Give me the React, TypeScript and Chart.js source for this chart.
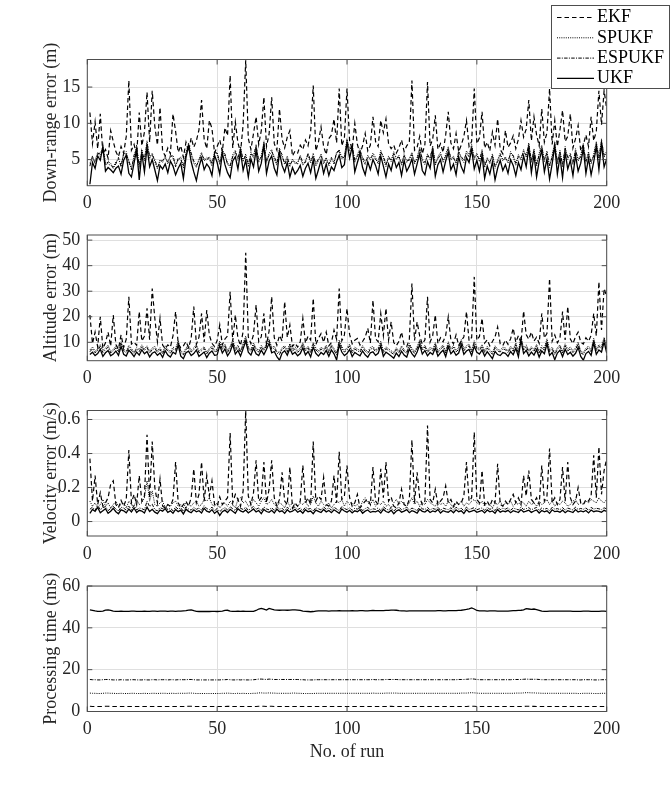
import React, { useEffect, useRef } from 'react';
import { Chart, registerables } from 'chart.js';

Chart.register(...registerables);

// ---------------- data ----------------
const runs: number[] = Array.from({ length: 200 }, (_, i) => i + 1);
const seriesNames = ['EKF', 'SPUKF', 'ESPUKF', 'UKF'];

// Panel 1: Down-range error (m)
const downEKF = [
  11.5, 7.2, 10.2, 6.5, 11.3, 5.8, 6.4, 5.2, 9.0, 7.5,
  6.1, 5.4, 6.8, 5.9, 8.2, 15.9, 6.3, 7.1, 5.6, 11.5,
  6.9, 8.8, 14.3, 7.4, 14.5, 9.6, 7.0, 12.2, 6.2, 5.5,
  6.6, 5.8, 11.3, 8.9, 6.0, 6.9, 5.3, 7.4, 6.1, 8.0,
  6.7, 7.6, 9.1, 13.2, 7.8, 6.5, 10.4, 9.3, 5.9, 6.8,
  7.7, 6.1, 9.4, 8.3, 16.6, 6.6, 10.2, 7.3, 6.0, 9.8,
  18.7, 7.9, 6.4, 8.6, 10.9, 7.1, 9.0, 13.6, 6.8, 8.5,
  13.6, 7.2, 6.3, 12.0, 7.8, 6.6, 8.1, 9.0, 5.5, 6.2,
  5.9, 7.0, 6.4, 7.7, 6.9, 8.8, 15.2, 6.2, 7.4, 9.5,
  6.8, 5.7, 7.9, 8.4, 10.6, 7.3, 14.8, 6.9, 8.0, 14.8,
  7.6, 6.4, 10.0, 7.1, 5.8, 6.9, 8.6, 6.2, 7.0, 10.9,
  7.5, 6.8, 10.4, 8.7, 10.6, 7.2, 6.5, 7.0, 5.9, 6.6,
  7.7, 6.1, 6.9, 7.4, 15.9, 6.3, 6.7, 8.2, 5.8, 7.1,
  15.7, 6.9, 7.8, 11.1, 6.4, 7.2, 6.0, 8.4, 11.6, 7.3,
  6.5, 8.6, 6.1, 7.0, 8.2, 10.4, 6.8, 7.5, 14.8, 7.2,
  8.0, 11.6, 6.6, 7.4, 6.2, 8.8, 7.0, 10.6, 6.4, 5.8,
  9.0, 6.7, 7.3, 8.3, 6.5, 7.8, 10.4, 8.1, 9.2, 13.2,
  7.6, 10.9, 8.4, 6.9, 12.0, 7.4, 8.7, 14.8, 7.1, 10.4,
  6.8, 9.1, 11.8, 7.5, 8.2, 11.3, 6.6, 7.9, 9.7, 6.2,
  7.0, 8.4, 6.8, 10.9, 7.6, 8.9, 14.5, 9.8, 14.5, 12.0,
];
const downSPUKF = [
  4.5, 5.2, 4.9, 6.0, 5.4, 6.9, 4.6, 4.4, 4.2, 4.0,
  4.7, 5.0, 4.3, 5.6, 6.1, 4.5, 3.9, 5.2, 7.0, 3.8,
  6.4, 4.8, 7.6, 5.1, 5.9, 4.7, 3.7, 5.0, 4.6, 5.5,
  4.4, 5.7, 5.2, 4.3, 4.9, 5.4, 3.8, 6.0, 7.3, 5.6,
  4.5, 3.9, 5.1, 6.0, 4.8, 5.3, 5.0, 4.1, 6.2, 5.7,
  4.3, 6.5, 5.4, 4.6, 3.9, 5.7, 6.3, 4.9, 6.8, 4.7,
  5.8, 4.0, 6.0, 5.2, 7.1, 4.6, 5.6, 7.4, 4.5, 5.9,
  6.4, 5.0, 4.2, 6.6, 5.3, 4.6, 5.5, 4.0, 5.1, 4.4,
  4.7, 5.3, 4.2, 4.9, 5.6, 4.5, 5.9, 4.1, 4.8, 5.8,
  4.4, 5.3, 4.1, 5.0, 4.7, 5.8, 6.4, 5.1, 5.5, 7.8,
  6.2, 7.1, 4.6, 5.7, 6.5, 5.0, 4.3, 5.6, 4.9, 5.9,
  5.3, 4.4, 6.3, 5.2, 4.0, 5.5, 4.7, 6.1, 5.0, 5.6,
  4.2, 5.8, 4.6, 5.2, 6.0, 4.4, 5.3, 6.7, 4.8, 4.3,
  5.8, 5.0, 6.9, 4.2, 5.4, 6.0, 4.6, 5.7, 6.8, 4.9,
  5.5, 4.3, 6.3, 5.1, 4.6, 6.2, 5.7, 7.1, 5.0, 5.9,
  4.7, 6.4, 3.9, 5.3, 4.4, 5.8, 3.8, 5.0, 5.9, 4.8,
  5.4, 4.5, 6.1, 5.3, 4.2, 5.7, 4.9, 6.4, 5.3, 7.3,
  4.6, 6.5, 4.1, 5.9, 7.0, 4.7, 6.2, 3.9, 5.6, 7.4,
  4.4, 6.3, 4.0, 6.8, 5.0, 5.9, 4.3, 6.5, 4.8, 5.6,
  7.2, 4.5, 6.1, 4.4, 5.8, 7.5, 5.0, 7.8, 5.3, 6.2,
];
const downESPUKF = [
  4.1, 5.5, 4.4, 5.8, 5.9, 6.5, 4.2, 4.7, 4.5, 3.8,
  4.4, 5.3, 4.0, 5.9, 5.7, 4.9, 3.6, 5.6, 6.6, 4.2,
  6.0, 5.1, 7.2, 5.5, 5.6, 5.0, 3.9, 4.7, 4.9, 5.2,
  4.7, 5.4, 5.6, 4.0, 5.2, 5.0, 4.1, 5.7, 7.0, 5.9,
  4.8, 4.2, 4.8, 5.7, 5.1, 4.9, 5.4, 4.4, 5.9, 6.0,
  4.6, 6.1, 5.8, 4.3, 4.2, 5.4, 6.0, 5.2, 6.5, 5.0,
  5.5, 4.4, 5.7, 5.6, 6.8, 4.9, 5.3, 7.1, 4.8, 5.6,
  6.1, 5.4, 4.5, 6.3, 5.7, 4.3, 5.2, 4.3, 4.8, 4.7,
  4.4, 5.6, 4.5, 4.6, 5.9, 4.8, 5.5, 4.4, 5.1, 5.5,
  4.7, 5.0, 4.4, 5.3, 4.4, 6.1, 6.1, 5.4, 5.2, 7.5,
  6.5, 6.8, 4.9, 5.4, 6.2, 5.3, 4.6, 5.3, 5.2, 5.6,
  5.0, 4.7, 6.0, 5.5, 4.3, 5.2, 5.0, 5.8, 5.3, 5.3,
  4.5, 5.5, 4.9, 4.9, 5.7, 4.7, 5.0, 6.4, 5.1, 4.6,
  5.5, 5.3, 6.6, 4.5, 5.1, 5.7, 4.9, 5.4, 6.5, 5.2,
  5.2, 4.6, 6.0, 5.4, 4.9, 5.9, 5.4, 6.8, 5.3, 5.6,
  5.0, 6.1, 4.2, 5.0, 4.7, 5.5, 4.1, 4.7, 5.6, 5.1,
  5.1, 4.8, 5.8, 5.6, 4.5, 5.4, 5.2, 6.1, 5.6, 7.0,
  4.9, 6.2, 4.4, 5.6, 6.7, 5.0, 5.9, 4.2, 5.3, 7.1,
  4.7, 6.0, 4.3, 6.5, 5.3, 5.6, 4.6, 6.2, 5.1, 5.3,
  6.9, 4.8, 5.8, 4.7, 5.5, 7.2, 5.3, 7.5, 5.6, 5.9,
];
const downUKF = [
  1.6, 4.6, 3.8, 5.5, 4.9, 6.8, 3.4, 3.9, 3.6, 3.2,
  3.8, 4.1, 3.0, 4.9, 5.6, 3.1, 2.6, 4.5, 6.4, 2.2,
  5.9, 3.3, 6.7, 4.0, 5.0, 3.6, 2.1, 4.2, 3.7, 4.4,
  3.2, 4.8, 4.1, 2.9, 3.8, 4.5, 2.4, 5.3, 6.9, 4.7,
  3.3, 2.1, 4.0, 5.2, 3.6, 4.4, 3.9, 2.8, 5.6, 4.6,
  3.0, 5.9, 4.3, 3.2, 2.5, 4.8, 5.4, 3.7, 6.1, 3.5,
  4.9, 2.6, 5.1, 4.0, 6.3, 3.4, 4.5, 7.0, 3.1, 4.8,
  5.5, 3.8, 2.9, 6.0, 4.2, 3.3, 4.6, 2.6, 3.9, 3.0,
  3.5, 4.2, 2.7, 3.8, 4.5, 3.2, 5.0, 2.4, 3.6, 4.9,
  3.1, 4.4, 2.8, 4.0, 3.5, 4.7, 5.6, 3.9, 4.3, 7.4,
  5.2, 6.8, 3.3, 4.6, 5.8, 3.9, 2.9, 4.7, 3.6, 5.0,
  4.2, 3.0, 5.5, 4.1, 2.6, 4.4, 3.5, 5.2, 3.9, 4.6,
  2.8, 4.9, 3.4, 4.1, 5.1, 3.0, 4.4, 5.8, 3.5, 2.9,
  4.7, 3.8, 6.2, 2.7, 4.3, 5.0, 3.3, 4.8, 6.0, 3.6,
  4.4, 2.9, 5.4, 4.0, 3.2, 5.3, 4.6, 6.4, 3.7, 4.9,
  3.4, 5.6, 2.4, 4.1, 3.0, 4.7, 2.2, 3.8, 4.9, 3.5,
  4.3, 3.1, 5.0, 4.2, 2.8, 4.6, 3.6, 5.5, 4.0, 6.6,
  3.2, 5.7, 2.6, 4.8, 6.3, 3.3, 5.1, 2.3, 4.4, 6.9,
  3.0, 5.4, 2.5, 6.0, 3.7, 4.9, 2.8, 5.6, 3.4, 4.5,
  6.5, 3.1, 5.2, 2.9, 4.7, 6.8, 3.6, 7.2, 4.0, 5.1,
];

// Panel 2: Altitude error (m)
const altEKF = [
  20.7, 9.5, 14.0, 8.2, 20.0, 7.6, 9.8, 14.0, 8.5, 20.7,
  9.1, 7.4, 12.9, 8.0, 11.2, 27.8, 9.3, 10.0, 8.8, 22.0,
  10.5, 12.4, 23.3, 11.0, 31.0, 19.4, 10.2, 19.4, 8.9, 7.5,
  9.0, 8.1, 12.6, 22.0, 9.4, 7.8, 8.6, 10.3, 7.9, 11.5,
  24.0, 9.2, 12.0, 21.3, 10.1, 22.6, 12.8, 9.6, 8.3, 10.7,
  16.8, 9.0, 11.3, 12.5, 29.8, 10.4, 20.7, 11.6, 8.7, 14.2,
  45.0, 12.1, 9.5, 13.0, 24.6, 10.3, 12.2, 21.3, 9.1, 14.4,
  27.8, 11.8, 8.9, 12.7, 10.5, 25.9, 11.9, 16.8, 8.4, 9.6,
  8.1, 10.2, 19.4, 9.7, 12.4, 10.9, 27.2, 9.2, 11.5, 13.4,
  10.0, 14.0, 8.6, 9.9, 14.8, 11.2, 31.0, 10.6, 12.9, 23.3,
  13.1, 9.4, 10.8, 11.5, 8.9, 10.3, 12.0, 15.5, 9.7, 26.5,
  11.4, 10.2, 21.3, 12.6, 23.3, 10.8, 18.0, 9.9, 8.7, 10.4,
  14.0, 9.0, 8.3, 11.2, 33.0, 10.7, 18.0, 12.4, 9.3, 11.0,
  27.8, 10.1, 12.6, 20.7, 9.5, 11.8, 10.2, 12.7, 20.0, 10.9,
  9.4, 12.9, 8.8, 10.5, 12.2, 22.0, 10.6, 11.9, 35.6, 10.8,
  12.3, 19.4, 9.7, 11.0, 8.6, 10.3, 12.1, 16.0, 9.4, 8.7,
  10.9, 9.2, 11.4, 15.5, 10.0, 12.6, 9.8, 22.2, 13.0, 11.2,
  14.0, 10.5, 12.0, 9.6, 21.3, 11.7, 13.5, 35.0, 10.4, 12.9,
  9.8, 11.6, 22.0, 10.9, 24.0, 11.3, 9.5, 12.2, 14.0, 10.1,
  9.3, 11.8, 10.4, 12.7, 21.3, 12.5, 33.7, 14.8, 31.0, 28.0,
];
const altSPUKF = [
  7.0, 8.2, 6.5, 7.4, 9.1, 6.8, 7.7, 8.9, 6.4, 7.2,
  8.5, 6.9, 10.2, 7.3, 6.6, 8.8, 7.6, 6.2, 8.0, 7.1,
  9.0, 7.4, 8.6, 6.5, 7.8, 8.4, 6.7, 7.9, 6.0, 8.6,
  7.2, 6.4, 8.1, 7.6, 10.6, 6.8, 5.7, 7.9, 8.7, 6.9,
  7.8, 9.1, 6.6, 7.4, 8.3, 6.1, 7.7, 8.5, 6.9, 7.3,
  10.5, 7.9, 9.3, 6.8, 8.4, 11.0, 7.5, 8.9, 6.7, 9.6,
  12.4, 8.2, 7.1, 9.8, 7.6, 6.9, 8.8, 7.4, 9.4, 11.3,
  8.0, 8.5, 6.5, 5.9, 7.9, 8.7, 6.8, 9.5, 7.3, 8.2,
  6.8, 7.7, 9.9, 7.2, 8.5, 6.5, 10.0, 7.8, 6.7, 8.1,
  7.3, 8.9, 6.6, 9.1, 7.6, 5.8, 10.9, 8.3, 6.9, 7.7,
  9.3, 6.5, 8.1, 7.4, 6.8, 8.7, 7.2, 6.3, 8.0, 8.4,
  7.0, 7.8, 10.4, 6.6, 8.2, 7.5, 6.7, 6.0, 7.9, 6.5,
  8.6, 7.1, 6.3, 9.5, 7.7, 6.4, 8.3, 11.0, 7.5, 8.9,
  6.8, 8.1, 7.3, 9.9, 6.7, 8.0, 9.0, 6.5, 10.2, 7.6,
  8.8, 7.0, 7.9, 11.1, 7.4, 8.7, 9.3, 6.9, 10.6, 8.2,
  7.5, 9.1, 6.7, 8.4, 7.1, 6.0, 8.6, 7.3, 6.9, 8.1,
  7.8, 6.6, 8.5, 7.2, 9.8, 6.4, 12.2, 7.7, 9.0, 6.8,
  8.3, 7.1, 9.2, 6.3, 8.7, 7.6, 11.4, 7.0, 8.1, 5.9,
  7.9, 9.0, 6.5, 9.4, 7.3, 8.2, 6.7, 7.8, 10.1, 6.6,
  6.0, 7.7, 8.5, 7.0, 11.6, 7.4, 9.1, 8.3, 12.0, 7.9,
];
const altESPUKF = [
  6.3, 7.5, 5.9, 6.8, 8.4, 6.0, 7.1, 8.1, 5.8, 6.6,
  7.8, 6.2, 9.5, 6.7, 5.9, 8.1, 6.9, 5.6, 7.4, 6.4,
  8.3, 6.8, 7.9, 5.8, 7.1, 7.7, 6.0, 7.2, 5.4, 7.9,
  6.5, 5.7, 7.4, 6.9, 9.9, 6.1, 5.1, 7.2, 8.0, 6.2,
  7.1, 8.4, 5.9, 6.7, 7.6, 5.5, 7.0, 7.8, 6.2, 6.6,
  9.8, 7.2, 8.6, 6.1, 7.7, 10.3, 6.8, 8.2, 6.0, 8.9,
  11.7, 7.5, 6.4, 9.1, 6.9, 6.2, 8.1, 6.7, 8.7, 10.6,
  7.3, 7.8, 5.8, 5.2, 7.2, 8.0, 6.1, 8.8, 6.6, 7.5,
  6.1, 7.0, 9.2, 6.5, 7.8, 5.8, 9.3, 7.1, 6.0, 7.4,
  6.6, 8.2, 5.9, 8.4, 6.9, 5.1, 10.2, 7.6, 6.2, 7.0,
  8.6, 5.8, 7.4, 6.7, 6.1, 8.0, 6.5, 5.6, 7.3, 7.7,
  6.3, 7.1, 9.7, 5.9, 7.5, 6.8, 6.0, 5.3, 7.2, 5.8,
  7.9, 6.4, 5.6, 8.8, 7.0, 5.7, 7.6, 10.3, 6.8, 8.2,
  6.1, 7.4, 6.6, 9.2, 6.0, 7.3, 8.3, 5.8, 9.5, 6.9,
  8.1, 6.3, 7.2, 10.4, 6.7, 8.0, 8.6, 6.2, 9.9, 7.5,
  6.8, 8.4, 6.0, 7.7, 6.4, 5.3, 7.9, 6.6, 6.2, 7.4,
  7.1, 5.9, 7.8, 6.5, 9.1, 5.7, 11.5, 7.0, 8.3, 6.1,
  7.6, 6.4, 8.5, 5.6, 8.0, 6.9, 10.7, 6.3, 7.4, 5.2,
  7.2, 8.3, 5.8, 8.7, 6.6, 7.5, 6.0, 7.1, 9.4, 5.9,
  5.3, 7.0, 7.8, 6.3, 10.9, 6.7, 8.4, 7.6, 11.3, 7.2,
];
const altUKF = [
  5.2, 6.1, 4.8, 5.6, 7.3, 4.5, 5.9, 6.8, 4.7, 5.4,
  6.6, 4.9, 8.4, 5.3, 4.6, 6.9, 5.8, 4.4, 6.2, 5.0,
  7.1, 5.5, 6.4, 4.3, 5.7, 6.3, 4.9, 5.8, 4.1, 6.7,
  5.0, 4.2, 6.1, 5.4, 8.9, 4.6, 3.6, 5.9, 6.5, 4.8,
  5.6, 7.0, 4.5, 5.3, 6.2, 4.0, 5.7, 6.6, 4.9, 5.1,
  8.7, 5.8, 7.4, 4.7, 6.3, 9.2, 5.4, 6.8, 4.6, 7.5,
  10.5, 6.1, 5.0, 7.7, 5.5, 4.8, 6.9, 5.2, 7.3, 9.6,
  5.9, 6.4, 4.4, 3.0, 5.8, 6.7, 4.9, 7.6, 5.3, 6.1,
  4.7, 5.6, 7.9, 5.1, 6.4, 4.3, 8.1, 5.7, 4.6, 6.0,
  5.2, 6.8, 4.5, 7.0, 5.5, 3.1, 9.0, 6.2, 4.8, 5.6,
  7.2, 4.4, 6.0, 5.3, 4.7, 6.6, 5.1, 4.2, 5.9, 6.3,
  4.9, 5.7, 8.6, 4.5, 6.1, 5.4, 4.6, 3.8, 5.8, 4.4,
  6.5, 5.0, 4.2, 7.4, 5.6, 4.3, 6.2, 9.1, 5.4, 6.8,
  4.7, 6.0, 5.2, 7.8, 4.6, 5.9, 6.9, 4.4, 8.3, 5.5,
  6.7, 4.9, 5.8, 9.0, 5.3, 6.6, 7.2, 4.8, 8.5, 6.1,
  5.4, 7.0, 4.6, 6.3, 5.0, 3.6, 6.5, 5.2, 4.8, 6.0,
  5.7, 4.5, 6.4, 5.1, 7.7, 4.3, 10.8, 5.6, 6.9, 4.7,
  6.2, 5.0, 7.1, 4.2, 6.6, 5.5, 9.4, 4.9, 6.0, 3.2,
  5.8, 6.9, 4.4, 7.3, 5.2, 6.1, 4.6, 5.7, 8.0, 4.5,
  3.0, 5.6, 6.4, 4.9, 9.8, 5.3, 7.0, 6.2, 10.2, 5.8,
];

// Panel 3: Velocity error (m/s)
const velEKF = [
  0.37, 0.12, 0.27, 0.10, 0.17, 0.09, 0.11, 0.14, 0.22, 0.24,
  0.10, 0.08, 0.125, 0.09, 0.13, 0.42, 0.11, 0.16, 0.10, 0.27,
  0.12, 0.15, 0.51, 0.14, 0.47, 0.20, 0.11, 0.25, 0.09, 0.08,
  0.10, 0.09, 0.13, 0.35, 0.11, 0.08, 0.10, 0.12, 0.09, 0.14,
  0.31, 0.11, 0.16, 0.35, 0.12, 0.27, 0.15, 0.24, 0.10, 0.09,
  0.145, 0.10, 0.12, 0.14, 0.52, 0.11, 0.16, 0.13, 0.09, 0.18,
  0.65, 0.15, 0.10, 0.17, 0.36, 0.12, 0.14, 0.35, 0.11, 0.19,
  0.36, 0.14, 0.09, 0.13, 0.29, 0.12, 0.10, 0.32, 0.08, 0.11,
  0.09, 0.12, 0.33, 0.11, 0.14, 0.10, 0.47, 0.12, 0.15, 0.13,
  0.26, 0.10, 0.09, 0.12, 0.27, 0.11, 0.41, 0.13, 0.15, 0.33,
  0.14, 0.09, 0.11, 0.16, 0.08, 0.10, 0.12, 0.13, 0.10, 0.32,
  0.12, 0.10, 0.31, 0.14, 0.35, 0.12, 0.145, 0.09, 0.08, 0.11,
  0.19, 0.10, 0.09, 0.13, 0.48, 0.11, 0.29, 0.14, 0.10, 0.12,
  0.565, 0.13, 0.11, 0.19, 0.10, 0.12, 0.14, 0.21, 0.11, 0.13,
  0.09, 0.12, 0.10, 0.11, 0.15, 0.35, 0.12, 0.14, 0.525, 0.13,
  0.11, 0.30, 0.10, 0.12, 0.09, 0.13, 0.11, 0.34, 0.10, 0.09,
  0.12, 0.10, 0.13, 0.16, 0.11, 0.14, 0.10, 0.27, 0.15, 0.30,
  0.13, 0.11, 0.14, 0.10, 0.33, 0.12, 0.15, 0.43, 0.11, 0.14,
  0.10, 0.13, 0.32, 0.12, 0.35, 0.14, 0.10, 0.12, 0.20, 0.11,
  0.10, 0.13, 0.12, 0.15, 0.39, 0.14, 0.44, 0.16, 0.30, 0.37,
];
const velSPUKF = [
  0.12, 0.09, 0.11, 0.08, 0.10, 0.13, 0.09, 0.11, 0.08, 0.10,
  0.12, 0.09, 0.10, 0.11, 0.08, 0.12, 0.10, 0.09, 0.13, 0.10,
  0.11, 0.14, 0.24, 0.12, 0.18, 0.10, 0.09, 0.11, 0.12, 0.08,
  0.10, 0.09, 0.11, 0.12, 0.09, 0.10, 0.08, 0.11, 0.10, 0.09,
  0.11, 0.12, 0.09, 0.10, 0.13, 0.12, 0.14, 0.10, 0.09, 0.11,
  0.08, 0.10, 0.11, 0.09, 0.12, 0.10, 0.08, 0.13, 0.14, 0.11,
  0.12, 0.09, 0.10, 0.13, 0.11, 0.09, 0.12, 0.14, 0.10, 0.11,
  0.13, 0.10, 0.09, 0.11, 0.10, 0.08, 0.12, 0.09, 0.11, 0.10,
  0.09, 0.11, 0.10, 0.12, 0.09, 0.10, 0.15, 0.11, 0.09, 0.12,
  0.10, 0.09, 0.11, 0.08, 0.10, 0.12, 0.11, 0.13, 0.09, 0.12,
  0.10, 0.11, 0.09, 0.10, 0.08, 0.12, 0.14, 0.11, 0.10, 0.13,
  0.09, 0.11, 0.10, 0.12, 0.09, 0.10, 0.08, 0.11, 0.13, 0.10,
  0.12, 0.10, 0.09, 0.11, 0.14, 0.10, 0.12, 0.09, 0.11, 0.10,
  0.13, 0.11, 0.10, 0.09, 0.12, 0.10, 0.11, 0.09, 0.12, 0.10,
  0.08, 0.11, 0.10, 0.12, 0.09, 0.11, 0.10, 0.12, 0.13, 0.11,
  0.10, 0.12, 0.09, 0.11, 0.10, 0.08, 0.11, 0.10, 0.12, 0.09,
  0.11, 0.10, 0.12, 0.09, 0.11, 0.10, 0.12, 0.11, 0.09, 0.12,
  0.10, 0.11, 0.09, 0.12, 0.10, 0.11, 0.13, 0.10, 0.12, 0.09,
  0.11, 0.10, 0.12, 0.11, 0.09, 0.10, 0.12, 0.13, 0.10, 0.11,
  0.10, 0.12, 0.11, 0.13, 0.12, 0.11, 0.14, 0.12, 0.11, 0.13,
];
const velESPUKF = [
  0.072, 0.085, 0.066, 0.094, 0.070, 0.081, 0.088, 0.064, 0.077, 0.090,
  0.073, 0.062, 0.084, 0.079, 0.067, 0.090, 0.071, 0.095, 0.068, 0.080,
  0.076, 0.068, 0.120, 0.088, 0.102, 0.070, 0.063, 0.082, 0.075, 0.091,
  0.069, 0.078, 0.064, 0.086, 0.073, 0.081, 0.060, 0.087, 0.074, 0.067,
  0.083, 0.072, 0.079, 0.066, 0.093, 0.076, 0.070, 0.085, 0.063, 0.077,
  0.058, 0.073, 0.082, 0.068, 0.087, 0.075, 0.064, 0.090, 0.078, 0.071,
  0.084, 0.066, 0.077, 0.089, 0.072, 0.080, 0.062, 0.086, 0.074, 0.069,
  0.081, 0.065, 0.088, 0.073, 0.078, 0.063, 0.084, 0.071, 0.076, 0.087,
  0.070, 0.079, 0.064, 0.085, 0.073, 0.077, 0.061, 0.082, 0.075, 0.068,
  0.086, 0.072, 0.080, 0.067, 0.084, 0.074, 0.063, 0.089, 0.077, 0.070,
  0.081, 0.066, 0.078, 0.073, 0.085, 0.064, 0.076, 0.083, 0.069, 0.075,
  0.072, 0.080, 0.065, 0.087, 0.074, 0.068, 0.082, 0.061, 0.077, 0.084,
  0.070, 0.076, 0.085, 0.067, 0.079, 0.073, 0.064, 0.088, 0.075, 0.071,
  0.083, 0.068, 0.077, 0.072, 0.086, 0.065, 0.079, 0.074, 0.070, 0.081,
  0.067, 0.084, 0.073, 0.078, 0.063, 0.085, 0.071, 0.076, 0.082, 0.069,
  0.075, 0.080, 0.066, 0.083, 0.072, 0.077, 0.064, 0.086, 0.070, 0.078,
  0.073, 0.081, 0.067, 0.079, 0.074, 0.068, 0.085, 0.071, 0.076, 0.082,
  0.069, 0.077, 0.083, 0.065, 0.080, 0.072, 0.078, 0.063, 0.084, 0.073,
  0.076, 0.070, 0.082, 0.067, 0.079, 0.074, 0.068, 0.085, 0.071, 0.077,
  0.072, 0.080, 0.066, 0.083, 0.073, 0.078, 0.075, 0.070, 0.081, 0.074,
];
const velUKF = [
  0.048, 0.071, 0.060, 0.083, 0.052, 0.064, 0.075, 0.049, 0.061, 0.078,
  0.058, 0.046, 0.069, 0.063, 0.051, 0.074, 0.057, 0.080, 0.053, 0.066,
  0.062, 0.050, 0.085, 0.059, 0.072, 0.055, 0.047, 0.068, 0.061, 0.076,
  0.054, 0.063, 0.049, 0.071, 0.058, 0.067, 0.045, 0.073, 0.060, 0.052,
  0.069, 0.057, 0.064, 0.050, 0.078, 0.061, 0.055, 0.070, 0.048, 0.062,
  0.036, 0.058, 0.067, 0.053, 0.072, 0.060, 0.049, 0.075, 0.063, 0.056,
  0.068, 0.051, 0.062, 0.074, 0.057, 0.065, 0.047, 0.071, 0.059, 0.054,
  0.066, 0.050, 0.073, 0.058, 0.063, 0.048, 0.069, 0.056, 0.061, 0.072,
  0.055, 0.064, 0.049, 0.070, 0.058, 0.062, 0.046, 0.067, 0.060, 0.053,
  0.071, 0.057, 0.065, 0.052, 0.069, 0.059, 0.048, 0.074, 0.062, 0.055,
  0.066, 0.051, 0.063, 0.058, 0.070, 0.049, 0.061, 0.068, 0.054, 0.060,
  0.057, 0.065, 0.050, 0.072, 0.059, 0.053, 0.067, 0.046, 0.062, 0.069,
  0.055, 0.061, 0.070, 0.052, 0.064, 0.058, 0.049, 0.073, 0.060, 0.056,
  0.068, 0.053, 0.062, 0.057, 0.071, 0.050, 0.064, 0.059, 0.055, 0.066,
  0.052, 0.069, 0.058, 0.063, 0.048, 0.070, 0.056, 0.061, 0.067, 0.054,
  0.060, 0.065, 0.051, 0.068, 0.057, 0.062, 0.049, 0.071, 0.055, 0.063,
  0.058, 0.066, 0.052, 0.064, 0.059, 0.053, 0.070, 0.056, 0.061, 0.067,
  0.054, 0.062, 0.068, 0.050, 0.065, 0.057, 0.063, 0.048, 0.069, 0.058,
  0.061, 0.055, 0.067, 0.052, 0.064, 0.059, 0.053, 0.070, 0.056, 0.062,
  0.057, 0.065, 0.051, 0.068, 0.058, 0.063, 0.060, 0.055, 0.066, 0.059,
];

// Panel 4: Processing time (ms)
const timeEKF = [
  2.5, 2.4, 2.4, 2.4, 2.4, 2.4, 2.5, 2.5, 2.4, 2.4, 2.4, 2.4, 2.4, 2.4, 2.4, 2.4, 2.4, 2.4, 2.4, 2.4,
  2.4, 2.4, 2.4, 2.4, 2.4, 2.4, 2.4, 2.4, 2.4, 2.4, 2.4, 2.4, 2.4, 2.4, 2.4, 2.4, 2.4, 2.4, 2.5, 2.5,
  2.4, 2.4, 2.4, 2.4, 2.4, 2.4, 2.4, 2.4, 2.4, 2.4, 2.4, 2.4, 2.4, 2.5, 2.4, 2.4, 2.4, 2.4, 2.4, 2.4,
  2.4, 2.4, 2.4, 2.4, 2.4, 2.5, 2.5, 2.5, 2.4, 2.5, 2.5, 2.4, 2.4, 2.4, 2.4, 2.4, 2.4, 2.4, 2.4, 2.4,
  2.4, 2.4, 2.4, 2.4, 2.4, 2.4, 2.4, 2.4, 2.4, 2.4, 2.4, 2.4, 2.4, 2.4, 2.4, 2.4, 2.4, 2.4, 2.4, 2.4,
  2.4, 2.4, 2.4, 2.4, 2.4, 2.4, 2.4, 2.4, 2.4, 2.4, 2.4, 2.4, 2.4, 2.4, 2.4, 2.4, 2.5, 2.4, 2.4, 2.4,
  2.4, 2.4, 2.4, 2.4, 2.4, 2.4, 2.4, 2.4, 2.4, 2.4, 2.4, 2.4, 2.4, 2.4, 2.4, 2.4, 2.4, 2.4, 2.4, 2.4,
  2.4, 2.4, 2.4, 2.4, 2.4, 2.4, 2.5, 2.5, 2.5, 2.4, 2.4, 2.4, 2.4, 2.4, 2.4, 2.4, 2.4, 2.4, 2.4, 2.4,
  2.4, 2.4, 2.4, 2.4, 2.4, 2.4, 2.4, 2.4, 2.5, 2.5, 2.4, 2.5, 2.4, 2.4, 2.4, 2.4, 2.4, 2.4, 2.4, 2.4,
  2.4, 2.4, 2.4, 2.4, 2.4, 2.4, 2.4, 2.4, 2.4, 2.4, 2.4, 2.4, 2.4, 2.4, 2.4, 2.4, 2.4, 2.4, 2.4, 2.4,
];
const timeSPUKF = [
  8.8, 8.7, 8.7, 8.6, 8.6, 8.7, 8.8, 8.8, 8.7, 8.7, 8.6, 8.6, 8.7, 8.6, 8.6, 8.6, 8.7, 8.7, 8.6, 8.6,
  8.6, 8.7, 8.6, 8.6, 8.7, 8.7, 8.6, 8.7, 8.7, 8.7, 8.6, 8.7, 8.7, 8.6, 8.7, 8.7, 8.7, 8.7, 8.8, 8.8,
  8.7, 8.6, 8.6, 8.6, 8.6, 8.6, 8.6, 8.6, 8.6, 8.6, 8.6, 8.7, 8.7, 8.8, 8.7, 8.6, 8.6, 8.7, 8.6, 8.7,
  8.6, 8.6, 8.6, 8.7, 8.7, 8.9, 8.9, 8.8, 8.8, 8.9, 8.8, 8.8, 8.7, 8.7, 8.7, 8.7, 8.7, 8.7, 8.8, 8.8,
  8.7, 8.7, 8.6, 8.6, 8.6, 8.6, 8.6, 8.7, 8.7, 8.7, 8.7, 8.7, 8.7, 8.7, 8.7, 8.7, 8.7, 8.7, 8.7, 8.7,
  8.7, 8.7, 8.7, 8.7, 8.7, 8.7, 8.7, 8.7, 8.7, 8.8, 8.7, 8.7, 8.7, 8.7, 8.8, 8.8, 8.8, 8.8, 8.8, 8.7,
  8.7, 8.7, 8.7, 8.7, 8.7, 8.7, 8.7, 8.7, 8.7, 8.7, 8.7, 8.7, 8.7, 8.7, 8.7, 8.7, 8.7, 8.7, 8.7, 8.7,
  8.7, 8.7, 8.7, 8.8, 8.8, 8.8, 8.9, 9.0, 8.9, 8.8, 8.7, 8.7, 8.7, 8.7, 8.7, 8.7, 8.7, 8.7, 8.7, 8.7,
  8.7, 8.7, 8.7, 8.7, 8.8, 8.8, 8.8, 8.9, 9.0, 9.0, 8.9, 8.9, 8.8, 8.8, 8.7, 8.7, 8.7, 8.7, 8.7, 8.7,
  8.7, 8.7, 8.7, 8.7, 8.7, 8.7, 8.7, 8.7, 8.6, 8.6, 8.7, 8.7, 8.7, 8.7, 8.6, 8.6, 8.6, 8.7, 8.7, 8.7,
];
const timeESPUKF = [
  15.3, 15.2, 15.2, 15.1, 15.1, 15.2, 15.3, 15.3, 15.2, 15.1, 15.1, 15.1, 15.2, 15.1, 15.1, 15.1, 15.2, 15.2, 15.1, 15.1,
  15.1, 15.2, 15.1, 15.1, 15.2, 15.2, 15.1, 15.2, 15.2, 15.2, 15.1, 15.2, 15.2, 15.1, 15.2, 15.2, 15.2, 15.2, 15.3, 15.3,
  15.2, 15.1, 15.1, 15.1, 15.1, 15.1, 15.1, 15.1, 15.1, 15.1, 15.1, 15.2, 15.2, 15.3, 15.2, 15.1, 15.1, 15.2, 15.1, 15.2,
  15.1, 15.1, 15.1, 15.2, 15.3, 15.5, 15.5, 15.4, 15.3, 15.5, 15.4, 15.3, 15.3, 15.3, 15.3, 15.3, 15.3, 15.3, 15.3, 15.3,
  15.3, 15.2, 15.2, 15.1, 15.1, 15.1, 15.1, 15.2, 15.2, 15.2, 15.2, 15.2, 15.2, 15.2, 15.2, 15.2, 15.2, 15.2, 15.2, 15.2,
  15.2, 15.2, 15.2, 15.2, 15.2, 15.2, 15.2, 15.2, 15.2, 15.3, 15.2, 15.2, 15.2, 15.2, 15.3, 15.3, 15.3, 15.3, 15.3, 15.2,
  15.2, 15.2, 15.2, 15.2, 15.2, 15.2, 15.2, 15.2, 15.2, 15.2, 15.2, 15.2, 15.2, 15.2, 15.2, 15.2, 15.2, 15.2, 15.2, 15.2,
  15.2, 15.2, 15.3, 15.3, 15.3, 15.4, 15.5, 15.6, 15.5, 15.3, 15.2, 15.2, 15.2, 15.2, 15.2, 15.2, 15.2, 15.2, 15.2, 15.2,
  15.2, 15.2, 15.2, 15.3, 15.3, 15.3, 15.3, 15.4, 15.5, 15.4, 15.4, 15.4, 15.4, 15.3, 15.2, 15.2, 15.2, 15.2, 15.2, 15.2,
  15.2, 15.2, 15.2, 15.2, 15.2, 15.2, 15.2, 15.2, 15.1, 15.1, 15.2, 15.2, 15.2, 15.2, 15.1, 15.1, 15.1, 15.2, 15.2, 15.2,
];
const timeUKF = [
  48.6, 48.4, 48.1, 47.9, 47.9, 48.0, 48.5, 48.6, 48.3, 48.0, 47.9, 47.9, 48.0, 47.9, 47.9, 47.9, 48.0, 48.0, 47.9, 47.9,
  47.9, 48.0, 47.9, 47.9, 48.0, 48.0, 47.9, 48.0, 48.0, 48.0, 47.9, 48.0, 48.0, 47.9, 48.0, 48.0, 48.1, 48.2, 48.5, 48.6,
  48.2, 47.9, 47.8, 47.8, 47.9, 47.8, 47.8, 47.9, 47.9, 47.8, 47.9, 48.0, 48.3, 48.4, 48.0, 47.9, 47.9, 48.0, 47.9, 48.0,
  47.9, 47.9, 47.9, 47.9, 48.3, 49.0, 49.3, 48.9, 48.5, 49.3, 48.9, 48.6, 48.5, 48.4, 48.5, 48.5, 48.4, 48.5, 48.6, 48.6,
  48.5, 48.3, 48.0, 47.9, 47.8, 47.7, 47.8, 48.0, 48.1, 48.1, 48.1, 48.1, 48.0, 48.1, 48.1, 48.1, 48.2, 48.1, 48.1, 48.1,
  48.1, 48.2, 48.1, 48.1, 48.2, 48.2, 48.1, 48.1, 48.2, 48.3, 48.2, 48.2, 48.2, 48.2, 48.3, 48.3, 48.5, 48.5, 48.4, 48.2,
  48.1, 48.1, 48.0, 48.1, 48.1, 48.1, 48.1, 48.1, 48.1, 48.1, 48.1, 48.1, 48.1, 48.1, 48.2, 48.2, 48.1, 48.1, 48.2, 48.2,
  48.2, 48.2, 48.3, 48.4, 48.6, 48.8, 49.1, 49.5, 49.0, 48.3, 48.1, 48.1, 48.1, 48.0, 48.1, 48.1, 48.1, 48.0, 48.0, 48.0,
  48.0, 48.0, 48.1, 48.2, 48.2, 48.3, 48.4, 48.6, 49.2, 49.0, 48.8, 49.0, 48.7, 48.4, 48.0, 47.9, 47.9, 48.0, 48.0, 48.0,
  48.0, 48.0, 48.0, 48.0, 48.0, 48.0, 47.9, 47.9, 47.9, 47.9, 48.0, 48.0, 48.0, 47.9, 47.9, 47.9, 47.9, 48.0, 48.0, 47.9,
];

const downTicks = [5, 10, 15];
const altTicks = [10, 20, 30, 40, 50];
const velTicks = [0, 0.2, 0.4, 0.6];
const timeTicks = [0, 20, 40, 60];
const xTicks = [0, 50, 100, 150, 200];

// ---------------- styling ----------------
const FONT = "'Liberation Serif', 'Times New Roman', serif";
const FS = 18;
const TXT = '#262626';
const GRID = '#dfdfdf';
const FRAME = '#4d4d4d';
const dashes: number[][] = [[4.5, 3], [1, 1.2], [3.5, 1.3, 1, 1.3], []];
const widths = [1.2, 1.0, 1.0, 1.3];

const PLOT_LEFT = 87.3;
const PLOT_RIGHT = 606.7;
const W = 671;

type Panel = {
  top: number;
  height: number;
  areaTop: number;
  areaBottom: number;
  series: number[][];
  yMin: number;
  yMax: number;
  ticks: number[];
  label: string;
  xTitle: boolean;
  legend: boolean;
};

const panels: Panel[] = [
  { top: 0, height: 215, areaTop: 59.5, areaBottom: 185.7, series: [downEKF, downSPUKF, downESPUKF, downUKF], yMin: 1.4, yMax: 18.8, ticks: downTicks, label: 'Down-range error (m)', xTitle: false, legend: true },
  { top: 215, height: 175, areaTop: 235, areaBottom: 360.7, series: [altEKF, altSPUKF, altESPUKF, altUKF], yMin: 2.8, yMax: 52, ticks: altTicks, label: 'Altitude error (m)', xTitle: false, legend: false },
  { top: 390, height: 175, areaTop: 410.5, areaBottom: 536, series: [velEKF, velSPUKF, velESPUKF, velUKF], yMin: -0.085, yMax: 0.653, ticks: velTicks, label: 'Velocity error (m/s)', xTitle: false, legend: false },
  { top: 565, height: 210, areaTop: 586, areaBottom: 711.5, series: [timeEKF, timeSPUKF, timeESPUKF, timeUKF], yMin: 0, yMax: 60, ticks: timeTicks, label: 'Processing time (ms)', xTitle: true, legend: false },
];

const framePlugin = {
  id: 'matlabFrame',
  afterDatasetsDraw(chart: any) {
    const { ctx, chartArea } = chart;
    const { left, right, top, bottom } = chartArea;
    const x = chart.scales.x;
    const y = chart.scales.y;
    ctx.save();
    ctx.strokeStyle = FRAME;
    ctx.lineWidth = 1;
    ctx.setLineDash([]);
    ctx.beginPath();
    x.ticks.forEach((t: any) => {
      const px = x.getPixelForValue(t.value);
      ctx.moveTo(px, bottom);
      ctx.lineTo(px, bottom - 5);
      ctx.moveTo(px, top);
      ctx.lineTo(px, top + 5);
    });
    y.ticks.forEach((t: any) => {
      const py = y.getPixelForValue(t.value);
      ctx.moveTo(left, py);
      ctx.lineTo(left + 5, py);
      ctx.moveTo(right, py);
      ctx.lineTo(right - 5, py);
    });
    ctx.stroke();
    ctx.strokeRect(left, top, right - left, bottom - top);
    ctx.restore();
  },
};

const legendPlugin = {
  id: 'boxLegend',
  afterDraw(chart: any) {
    const opts = chart.options.plugins.boxLegend;
    if (!opts || !opts.show) return;
    const ctx = chart.ctx;
    const bx = 551, by = 5, bw = 118, bh = 83;
    ctx.save();
    ctx.fillStyle = '#ffffff';
    ctx.fillRect(bx, by, bw, bh);
    ctx.strokeStyle = FRAME;
    ctx.lineWidth = 1;
    ctx.setLineDash([]);
    ctx.strokeRect(bx + 0.5, by + 0.5, bw, bh);
    ctx.font = `${FS}px ${FONT}`;
    ctx.textBaseline = 'middle';
    ctx.textAlign = 'left';
    chart.data.datasets.forEach((ds: any, i: number) => {
      const ly = 17.5 + i * 20.3;
      ctx.strokeStyle = '#000';
      ctx.lineWidth = ds.borderWidth;
      ctx.setLineDash(ds.borderDash || []);
      ctx.beginPath();
      ctx.moveTo(557, ly);
      ctx.lineTo(594, ly);
      ctx.stroke();
      ctx.setLineDash([]);
      ctx.fillStyle = '#000';
      ctx.fillText(ds.label, 597, ly);
    });
    ctx.restore();
  },
};

function buildConfig(p: Panel): any {
  const xAxisHeight = p.top + p.height - p.areaBottom;
  return {
    type: 'line',
    data: {
      datasets: p.series.map((vals, i) => ({
        label: seriesNames[i],
        data: runs.map((r, j) => ({ x: r, y: vals[j] })),
        borderColor: '#000',
        backgroundColor: '#000',
        borderWidth: widths[i],
        borderDash: dashes[i],
        pointRadius: 0,
        pointHoverRadius: 0,
        fill: false,
        tension: 0,
        order: 3 - i,
      })),
    },
    options: {
      animation: false,
      responsive: false,
      maintainAspectRatio: false,
      events: [],
      layout: {
        padding: { left: 40, right: W - PLOT_RIGHT, top: p.areaTop - p.top, bottom: 0 },
      },
      plugins: {
        legend: { display: false },
        tooltip: { enabled: false },
        boxLegend: { show: p.legend },
      },
      scales: {
        x: {
          type: 'linear',
          min: 0,
          max: 200,
          afterBuildTicks: (a: any) => {
            a.ticks = xTicks.map((v) => ({ value: v }));
          },
          afterFit: (a: any) => {
            a.height = xAxisHeight;
          },
          ticks: {
            color: TXT,
            font: { family: FONT, size: FS },
            padding: 7,
            maxRotation: 0,
            autoSkip: false,
          },
          grid: { color: GRID, drawTicks: false, lineWidth: 1 },
          border: { display: false },
          title: {
            display: p.xTitle,
            text: 'No. of run',
            color: TXT,
            font: { family: FONT, size: FS },
            padding: { top: 0, bottom: 12 },
          },
        },
        y: {
          type: 'linear',
          min: p.yMin,
          max: p.yMax,
          afterBuildTicks: (a: any) => {
            a.ticks = p.ticks.map((v) => ({ value: v }));
          },
          afterFit: (a: any) => {
            a.width = PLOT_LEFT - 40;
          },
          ticks: {
            color: TXT,
            font: { family: FONT, size: FS },
            padding: 7,
            autoSkip: false,
            callback: (v: any) => String(Math.round(Number(v) * 100) / 100),
          },
          grid: { color: GRID, drawTicks: false, lineWidth: 1 },
          border: { display: false },
          title: {
            display: true,
            text: p.label,
            color: TXT,
            font: { family: FONT, size: FS },
            padding: { top: 0, bottom: 0 },
          },
        },
      },
    },
    plugins: [framePlugin, legendPlugin],
  };
}

function PanelChart({ panel }: { panel: Panel }) {
  const ref = useRef<HTMLCanvasElement | null>(null);
  useEffect(() => {
    if (!ref.current) return;
    const chart = new Chart(ref.current, buildConfig(panel));
    return () => chart.destroy();
  }, [panel]);
  return (
    <canvas
      ref={ref}
      width={W}
      height={panel.height}
      style={{ position: 'absolute', left: 0, top: panel.top, width: W, height: panel.height, display: 'block' }}
    />
  );
}

export default function App() {
  return (
    <div style={{ position: 'absolute', left: 0, top: 0, width: W, height: 800, background: '#ffffff', overflow: 'hidden' }}>
      {panels.map((p, i) => (
        <PanelChart key={i} panel={p} />
      ))}
    </div>
  );
}
